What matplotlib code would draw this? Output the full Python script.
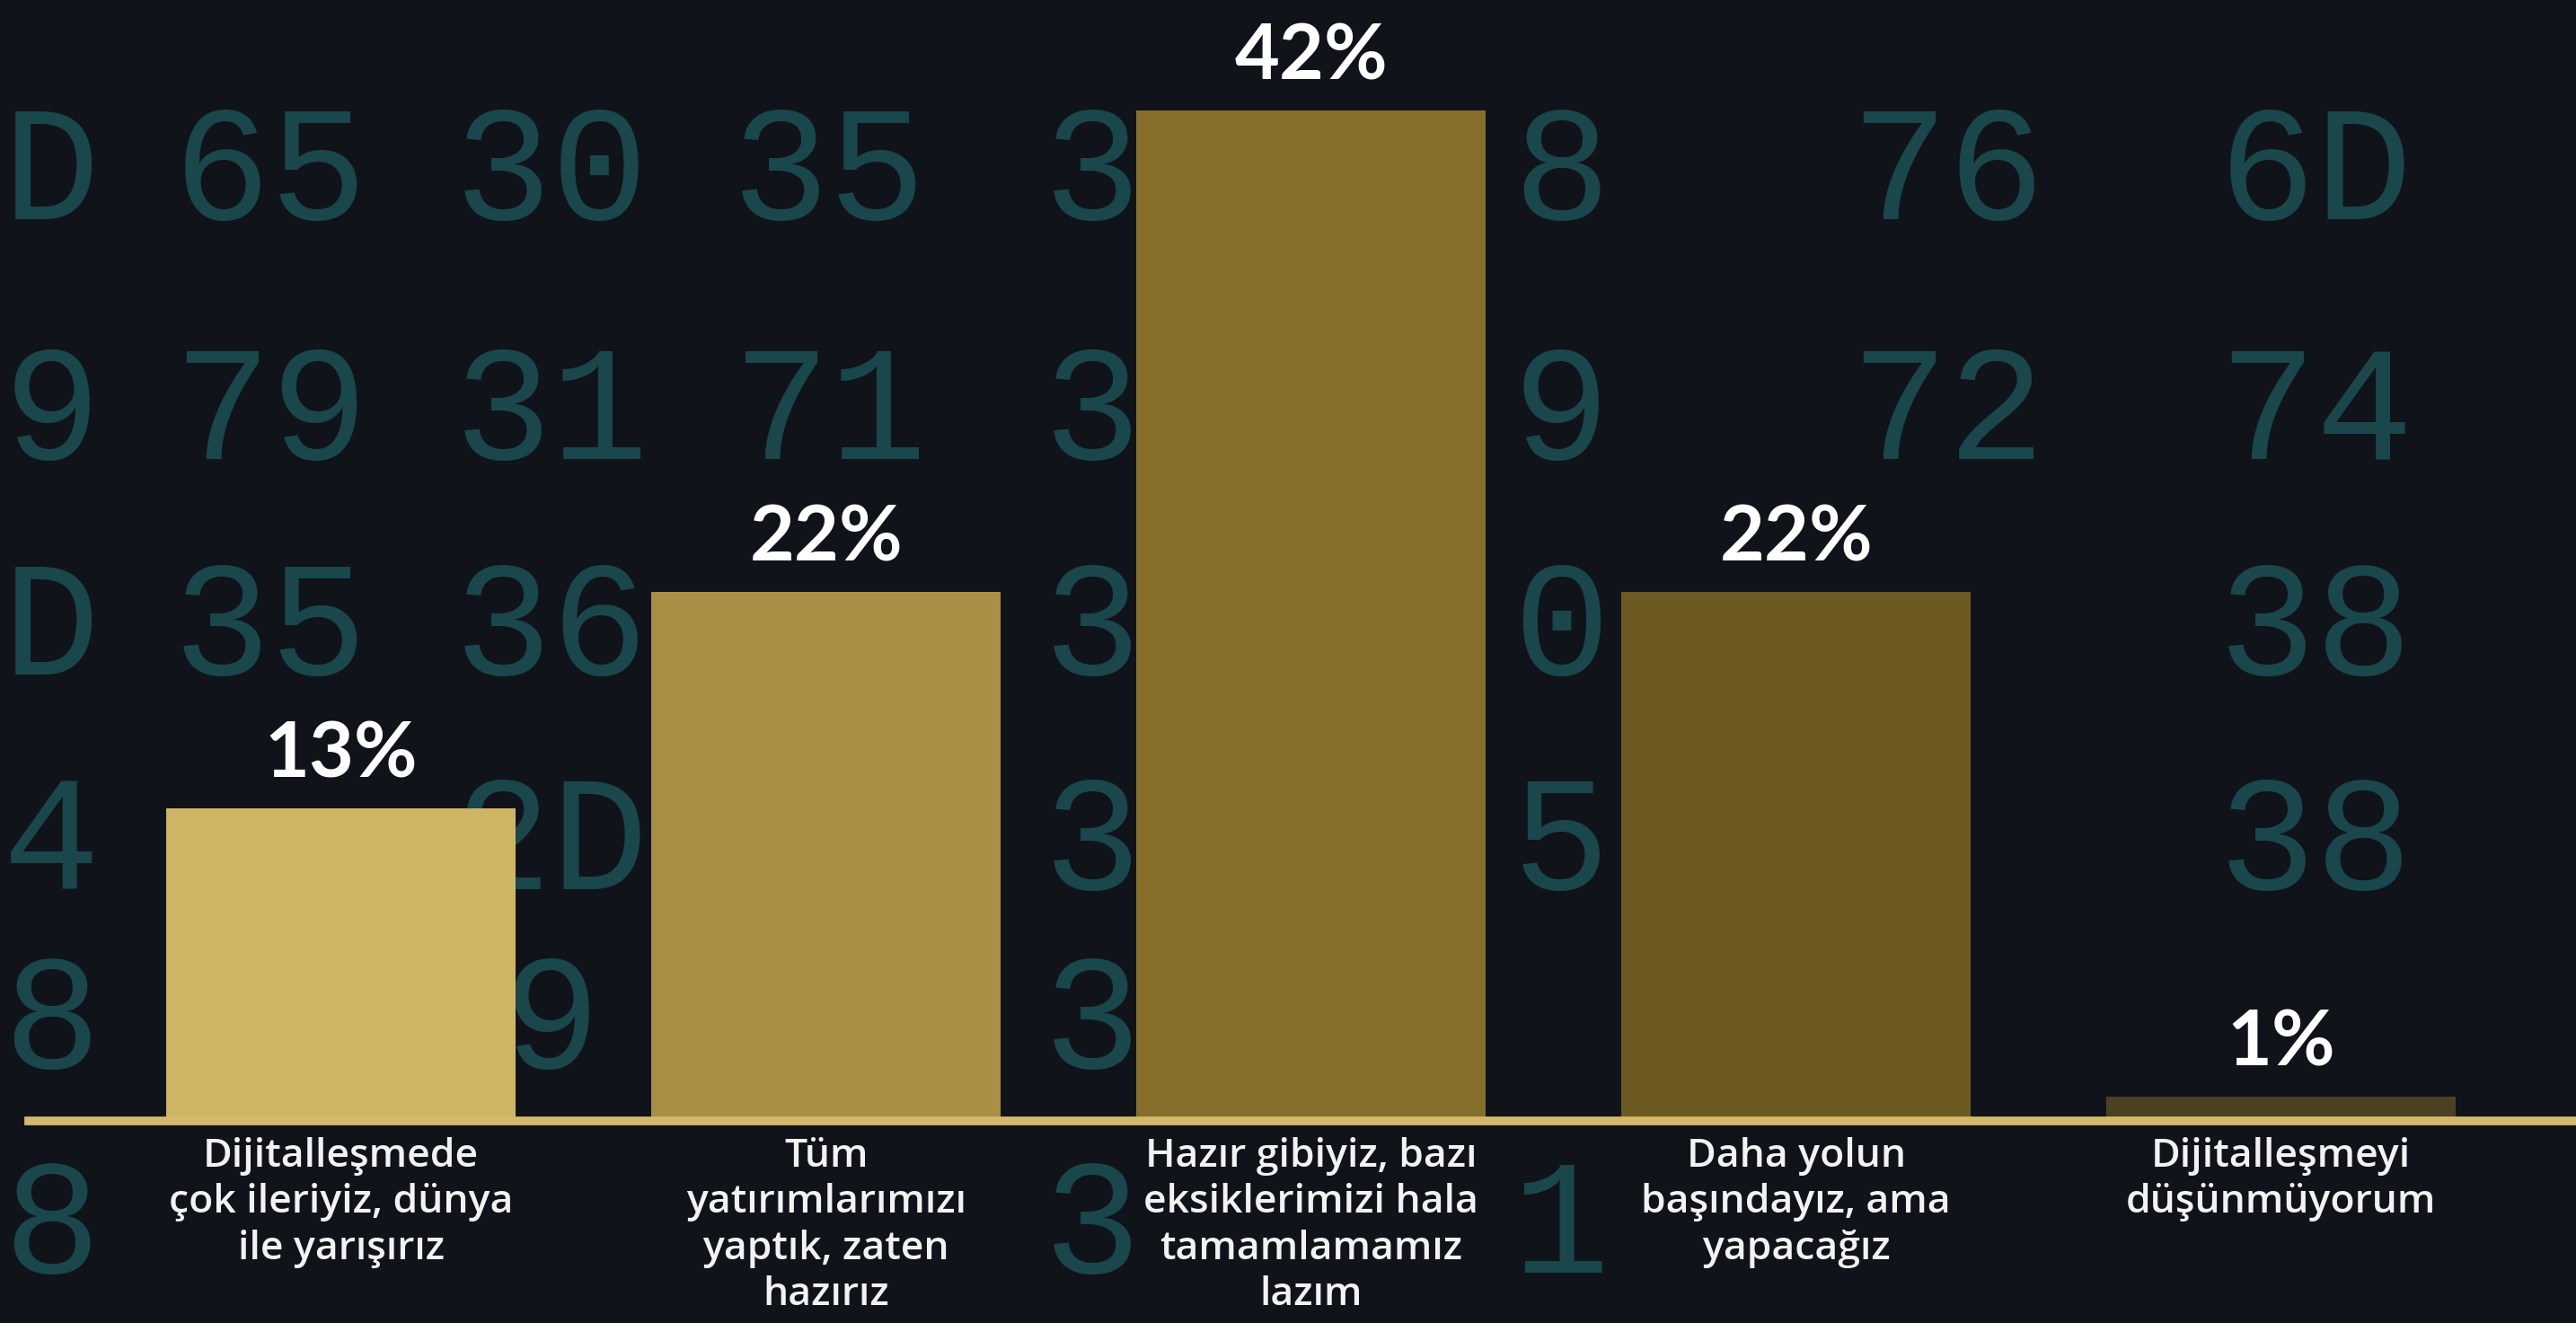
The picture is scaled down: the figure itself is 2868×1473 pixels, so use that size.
import matplotlib
matplotlib.use("Agg")
import matplotlib.pyplot as plt

# survey answers (percent)
categories = ["Dijitalleşmede\nçok ileriyiz, dünya\nile yarışırız",
              "Tüm\nyatırımlarımızı\nyaptık, zaten\nhazırız",
              "Hazır gibiyiz, bazı\neksiklerimizi hala\ntamamlamamız\nlazım",
              "Daha yolun\nbaşındayız, ama\nyapacağız",
              "Dijitalleşmeyi\ndüşünmüyorum"]
values = [13, 22, 42, 22, 1]
bar_colors = ["#CFB464", "#A98E43", "#856F2B", "#6C5A22", "#4B4020"]

# decorative hex backdrop (figure fractions, None = hidden behind bars/labels)
bg_cols = [0.020, 0.105, 0.214, 0.322, 0.424, 0.606, 0.756, 0.899]
bg_rows = [0.866, 0.685, 0.522, 0.360, 0.225, 0.070]
bg_hex = [["D", "65", "30", "35", "3", "8", "76", "6D"],
          ["9", "79", "31", "71", "3", "9", "72", "74"],
          ["D", "35", "36", None, "3", "0", None, "38"],
          ["4", None, "2D", None, "3", "5", None, "38"],
          ["8", None, "9", None, "3", None, None, None],
          ["8", None, None, None, "3", "1", None, None]]

BG = "#11131B"
fig = plt.figure(figsize=(28.68, 14.73), dpi=100, facecolor=BG)

for r, row in enumerate(bg_hex):
    for c, s in enumerate(row):
        if s is None:
            continue
        fig.text(bg_cols[c], bg_rows[r], s, fontsize=130,
                 family="Liberation Mono", color="#1D5E60", alpha=0.7,
                 va="center", ha="center", zorder=-1)

ax = fig.add_axes([32 / 2868, 0.1527, 1 - 32 / 2868, 0.8473])
ax.set_facecolor("none")

x = list(range(len(values)))
ax.bar(x, values, width=0.72, color=bar_colors, zorder=2)

ax.set_xlim(-0.644, 4.608)
ax.set_ylim(0, 46.6)

for s in ["top", "right", "left"]:
    ax.spines[s].set_visible(False)
ax.spines["bottom"].set_color("#D4B96A")
ax.spines["bottom"].set_linewidth(7)
ax.spines["bottom"].set_zorder(3)
ax.set_xticks([])
ax.set_yticks([])

for i, v in enumerate(values):
    ax.annotate(f"{v}%", xy=(i, v), xytext=(0, 25), textcoords="offset points",
                ha="center", va="baseline", fontsize=62, fontweight="bold",
                family="Lato", color="white")
    ax.annotate(categories[i], xy=(i, 0), xytext=(0, -13), textcoords="offset points",
                ha="center", va="top", fontsize=32, family="Open Sans", fontweight="semibold",
                color="#F2F2F2", linespacing=1.25, annotation_clip=False)

fig.savefig("out.png", dpi=100, facecolor=BG)
